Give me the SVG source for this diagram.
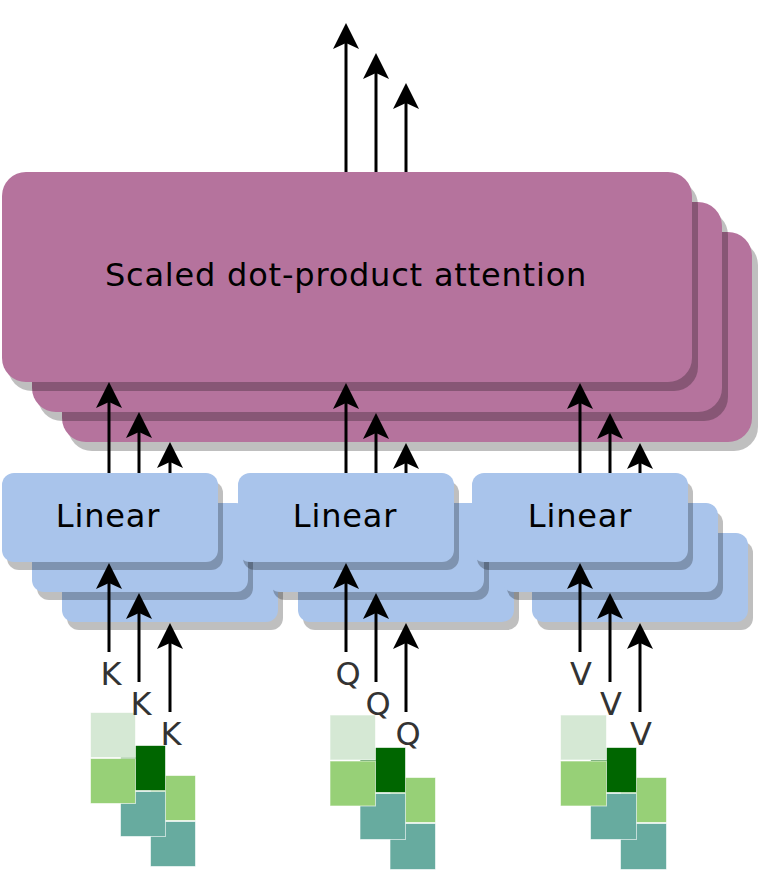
<svg xmlns="http://www.w3.org/2000/svg" width="759" height="873" viewBox="0 0 759 873">
<defs>
<style>
.att{fill:#b5739d}
.lin{fill:#a9c4eb}
.sh{fill:#000;fill-opacity:0.25}
.t{font-family:"DejaVu Sans","Open Sans",sans-serif;font-size:32px;letter-spacing:0.8px;fill:#000;text-anchor:middle}
.lbl{font-family:"DejaVu Sans","Open Sans",sans-serif;font-size:32px;fill:#333;text-anchor:middle}
.c{stroke:#000;stroke-width:3;fill:none;marker-end:url(#ah)}
.s1{fill:#d5e8d4}.s2{fill:#97d077}.s3{fill:#006600}.s4{fill:#67ab9f}
.sq rect{stroke:#fff;stroke-opacity:0.6;stroke-width:1}
</style>
<marker id="ah" markerUnits="userSpaceOnUse" markerWidth="30" markerHeight="30" refX="12" refY="15" orient="auto" overflow="visible">
<path d="M32,15 L6,2 L12,15 L6,28 Z" fill="#000"/>
</marker>
</defs>

<!-- attention heads -->
<g id="attention-3"><rect class="sh" x="68" y="241" width="690" height="210" rx="24"/><rect class="att" x="62" y="232" width="690" height="210" rx="24"/></g>
<g id="attention-2"><rect class="sh" x="38" y="211" width="690" height="210" rx="24"/><rect class="att" x="32" y="202" width="690" height="210" rx="24"/></g>
<g id="attention-1"><rect class="sh" x="8" y="181" width="690" height="210" rx="24"/><rect class="att" x="2" y="172" width="690" height="210" rx="24"/>
<text class="t" x="346" y="286">Scaled dot-product attention</text></g>

<!-- linear layers: back -->
<g id="linear-k-3"><rect class="sh" x="67" y="541" width="216" height="89" rx="12"/><rect class="lin" x="62" y="533" width="216" height="89" rx="12"/></g>
<g id="linear-q-3"><rect class="sh" x="303" y="541" width="216" height="89" rx="12"/><rect class="lin" x="298" y="533" width="216" height="89" rx="12"/></g>
<g id="linear-v-3"><rect class="sh" x="537" y="541" width="216" height="89" rx="12"/><rect class="lin" x="532" y="533" width="216" height="89" rx="12"/></g>
<g id="linear-k-2"><rect class="sh" x="37" y="511" width="216" height="89" rx="12"/><rect class="lin" x="32" y="503" width="216" height="89" rx="12"/></g>
<g id="linear-q-2"><rect class="sh" x="273" y="511" width="216" height="89" rx="12"/><rect class="lin" x="268" y="503" width="216" height="89" rx="12"/></g>
<g id="linear-v-2"><rect class="sh" x="507" y="511" width="216" height="89" rx="12"/><rect class="lin" x="502" y="503" width="216" height="89" rx="12"/></g>
<g id="linear-k-1"><rect class="sh" x="7" y="481" width="216" height="89" rx="12"/><rect class="lin" x="2" y="473" width="216" height="89" rx="12"/><text class="t" x="108" y="527">Linear</text></g>
<g id="linear-q-1"><rect class="sh" x="243" y="481" width="216" height="89" rx="12"/><rect class="lin" x="238" y="473" width="216" height="89" rx="12"/><text class="t" x="345" y="527">Linear</text></g>
<g id="linear-v-1"><rect class="sh" x="477" y="481" width="216" height="89" rx="12"/><rect class="lin" x="472" y="473" width="216" height="89" rx="12"/><text class="t" x="580" y="527">Linear</text></g>

<!-- input matrices -->
<g id="input-k" class="sq">
<rect class="s2" x="150.5" y="775.5" width="45" height="45"/><rect class="s4" x="150.5" y="821.5" width="45" height="45"/>
<rect class="s3" x="120.5" y="745.5" width="45" height="45"/><rect class="s4" x="120.5" y="791.5" width="45" height="45"/>
<rect class="s1" x="90.5" y="712.5" width="45" height="45"/><rect class="s2" x="90.5" y="758.5" width="45" height="45"/>
</g>
<g id="input-q" class="sq">
<rect class="s2" x="390" y="777.5" width="45.5" height="45"/><rect class="s4" x="390" y="823.5" width="45.5" height="46"/>
<rect class="s3" x="360" y="747.5" width="45.5" height="45"/><rect class="s4" x="360" y="793.5" width="45.5" height="46"/>
<rect class="s1" x="330" y="715" width="45.5" height="45"/><rect class="s2" x="330" y="761" width="45.5" height="45"/>
</g>
<g id="input-v" class="sq">
<rect class="s2" x="620.5" y="777.5" width="46" height="45"/><rect class="s4" x="620.5" y="823.5" width="46" height="46"/>
<rect class="s3" x="590.5" y="747.5" width="46" height="45"/><rect class="s4" x="590.5" y="793.5" width="46" height="46"/>
<rect class="s1" x="560.5" y="715" width="46" height="45"/><rect class="s2" x="560.5" y="761" width="46" height="45"/>
</g>

<!-- labels -->
<g id="labels">
<text class="lbl" x="111" y="685">K</text><text class="lbl" x="141" y="715">K</text><text class="lbl" x="171" y="745">K</text>
<text class="lbl" x="348" y="685">Q</text><text class="lbl" x="378" y="715">Q</text><text class="lbl" x="408" y="745">Q</text>
<text class="lbl" x="581" y="685">V</text><text class="lbl" x="611" y="715">V</text><text class="lbl" x="641" y="745">V</text>
</g>

<!-- connectors -->
<g id="connectors">
<line class="c" x1="109" y1="652" x2="109" y2="583"/>
<line class="c" x1="139" y1="682" x2="139" y2="613"/>
<line class="c" x1="170" y1="712" x2="170" y2="643"/>
<line class="c" x1="346" y1="652" x2="346" y2="583"/>
<line class="c" x1="376" y1="682" x2="376" y2="613"/>
<line class="c" x1="406" y1="712" x2="406" y2="643"/>
<line class="c" x1="580" y1="652" x2="580" y2="583"/>
<line class="c" x1="610" y1="682" x2="610" y2="613"/>
<line class="c" x1="640" y1="712" x2="640" y2="643"/>
<line class="c" x1="109" y1="473" x2="109" y2="402"/>
<line class="c" x1="139" y1="473" x2="139" y2="432"/>
<line class="c" x1="170" y1="473" x2="170" y2="462"/>
<line class="c" x1="346" y1="473" x2="346" y2="403"/>
<line class="c" x1="376" y1="473" x2="376" y2="433"/>
<line class="c" x1="406" y1="473" x2="406" y2="463"/>
<line class="c" x1="580" y1="473" x2="580" y2="403"/>
<line class="c" x1="610" y1="473" x2="610" y2="433"/>
<line class="c" x1="640" y1="473" x2="640" y2="463"/>
<line class="c" x1="346" y1="172" x2="346" y2="43"/>
<line class="c" x1="376" y1="172" x2="376" y2="73"/>
<line class="c" x1="406" y1="172" x2="406" y2="103"/>
</g>
</svg>
